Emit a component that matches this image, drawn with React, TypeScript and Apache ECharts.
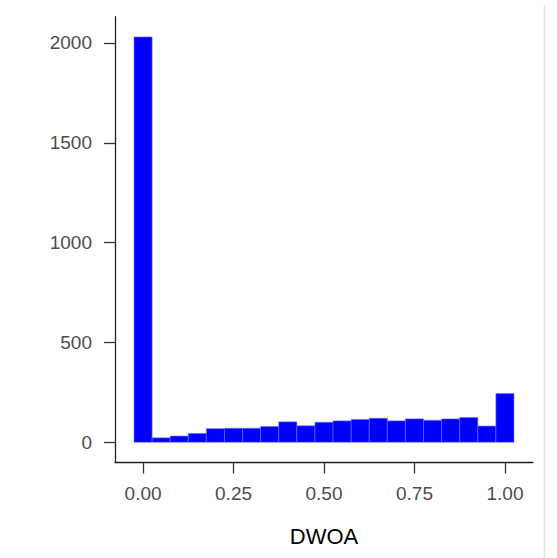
import React, { useEffect, useRef } from "react";
import * as echarts from "echarts";

const binCenters = [0, 0.05, 0.1, 0.15, 0.2, 0.25, 0.3, 0.35, 0.4, 0.45, 0.5, 0.55, 0.6, 0.65, 0.7, 0.75, 0.8, 0.85, 0.9, 0.95, 1.0];
const counts = [2030, 22, 31, 44, 68, 70, 70, 79, 102, 82, 100, 107, 114, 120, 107, 117, 110, 117, 124, 81, 244];
const binWidth = 0.05;
const xTicks = [0, 0.25, 0.5, 0.75, 1];
const yTicks = [0, 500, 1000, 1500, 2000];
const xTitle = "DWOA";

export default function App() {
  const ref = useRef<HTMLDivElement>(null);
  useEffect(() => {
    if (!ref.current) return;
    const chart = echarts.init(ref.current, undefined, { renderer: "svg" });
    const data = binCenters.map((c, i) => [c, counts[i]]);
    const axisColor = "#222";
    const font = "Liberation Sans, Arial, sans-serif";
    chart.setOption({
      animation: false,
      backgroundColor: "#ffffff",
      grid: { left: 115, right: 24, top: 16.7, bottom: 558 - 462.5, containLabel: false },
      xAxis: {
        type: "value",
        min: -0.0775,
        max: 1.0775,
        splitLine: { show: false },
        axisLine: { show: true, onZero: false, lineStyle: { color: axisColor, width: 1.3 } },
        axisTick: { show: true, length: 11, customValues: xTicks, lineStyle: { color: "#333", width: 1.3 } },
        axisLabel: {
          customValues: xTicks,
          formatter: (v: number) => v.toFixed(2),
          color: "#4d4d4d",
          fontSize: 19,
          fontFamily: font,
          margin: 21,
        },
        name: xTitle,
        nameLocation: "middle",
        nameGap: 63,
        nameTextStyle: { color: "#000", fontSize: 22, fontFamily: font },
      },
      yAxis: {
        type: "value",
        min: -101.5,
        max: 2131.5,
        splitLine: { show: false },
        axisLine: { show: true, onZero: false, lineStyle: { color: axisColor, width: 1.3 } },
        axisTick: { show: true, length: 11, customValues: yTicks, lineStyle: { color: "#333", width: 1.3 } },
        axisLabel: {
          customValues: yTicks,
          formatter: (v: number) => String(v),
          color: "#4d4d4d",
          fontSize: 19,
          fontFamily: font,
          margin: 23,
        },
      },
      series: [
        {
          type: "custom",
          data,
          renderItem: (params: any, api: any) => {
            const c = api.value(0);
            const v = api.value(1);
            const p0 = api.coord([c - binWidth / 2, v]);
            const p1 = api.coord([c + binWidth / 2, 0]);
            return {
              type: "rect",
              shape: { x: p0[0], y: p0[1], width: p1[0] - p0[0], height: p1[1] - p0[1] },
              style: { fill: "#0000ff", stroke: "#6b6bff", lineWidth: 0.6 },
            };
          },
        },
      ],
      graphic: [
        {
          type: "line",
          shape: { x1: 544.5, y1: 5, x2: 544.5, y2: 558 },
          style: { stroke: "#e3e3e3", lineWidth: 1.5 },
        },
      ],
    });
    return () => chart.dispose();
  }, []);
  return <div ref={ref} style={{ position: "fixed", left: 0, top: 0, width: 557, height: 558 }} />;
}
